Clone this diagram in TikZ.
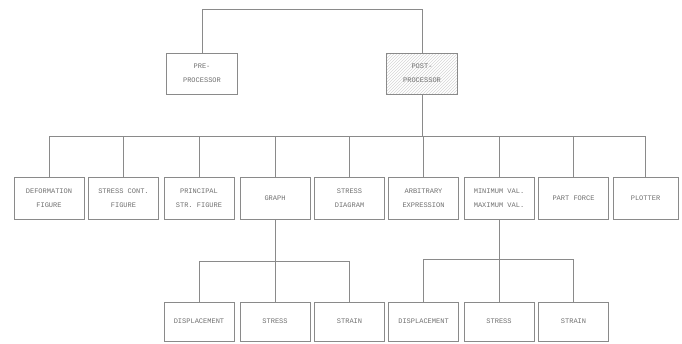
\documentclass[tikz,border=0pt]{standalone}
\usepackage{fontspec}
\setmonofont{Liberation Mono}
\usetikzlibrary{patterns}
\definecolor{ln}{HTML}{8A8A8A}
\definecolor{tx}{HTML}{707070}
\begin{document}
\begin{tikzpicture}[x=1pt,y=-1pt,
  box/.style={draw=ln,line width=0.9pt,minimum width=70pt,minimum height=42pt,inner sep=0pt,
    align=center,font=\ttfamily\fontsize{7}{14}\selectfont,text=tx},
  lowbox/.style={box,minimum height=39pt},
  topbox/.style={box,minimum width=71pt,minimum height=41pt},
  wire/.style={draw=ln,line width=0.8pt}]
\useasboundingbox (0,0) rectangle (682,343);
% top level
\node[topbox] (pre) at (202,73.5) {PRE-\\PROCESSOR};
\node[topbox,pattern=north east lines,pattern color=ln!35] (post) at (422,73.5) {POST-\\PROCESSOR};
\coordinate (top) at (0,9);
\coordinate (bus) at (0,136);
\coordinate (busL) at (0,261);
\coordinate (busR) at (0,259);
% middle row
\node[box] (m1) at (49,198) {DEFORMATION\\FIGURE};
\node[box] (m2) at (123.5,198) {STRESS CONT.\\FIGURE};
\node[box] (m3) at (199,198) {PRINCIPAL\\STR. FIGURE};
\node[box] (m4) at (275,198) {GRAPH};
\node[box] (m5) at (349.5,198) {STRESS\\DIAGRAM};
\node[box] (m6) at (423.5,198) {ARBITRARY\\EXPRESSION};
\node[box] (m7) at (499,198) {MINIMUM VAL.\\MAXIMUM VAL.};
\node[box] (m8) at (573.5,198) {PART FORCE};
\node[box,minimum width=65pt] (m9) at (645.5,198) {PLOTTER};
% bottom row
\node[lowbox] (b1) at (199,321.5) {DISPLACEMENT};
\node[lowbox] (b2) at (275,321.5) {STRESS};
\node[lowbox] (b3) at (349.5,321.5) {STRAIN};
\node[lowbox] (b4) at (423.5,321.5) {DISPLACEMENT};
\node[lowbox] (b5) at (499,321.5) {STRESS};
\node[lowbox] (b6) at (573.5,321.5) {STRAIN};
% connectors
\draw[wire] (pre.north) -- (pre.north |- top) -- (post.north |- top) -- (post.north);
\draw[wire] (post.south) -- (post.south |- bus);
\draw[wire] (m1.north) -- (m1.north |- bus) -- (m9.north |- bus) -- (m9.north);
\foreach \i in {2,...,8} \draw[wire] (m\i.north) -- (m\i.north |- bus);
\draw[wire] (m4.south) -- (m4.south |- busL);
\draw[wire] (b1.north) -- (b1.north |- busL) -- (b3.north |- busL) -- (b3.north);
\draw[wire] (b2.north) -- (b2.north |- busL);
\draw[wire] (m7.south) -- (m7.south |- busR);
\draw[wire] (b4.north) -- (b4.north |- busR) -- (b6.north |- busR) -- (b6.north);
\draw[wire] (b5.north) -- (b5.north |- busR);
\end{tikzpicture}
\end{document}
